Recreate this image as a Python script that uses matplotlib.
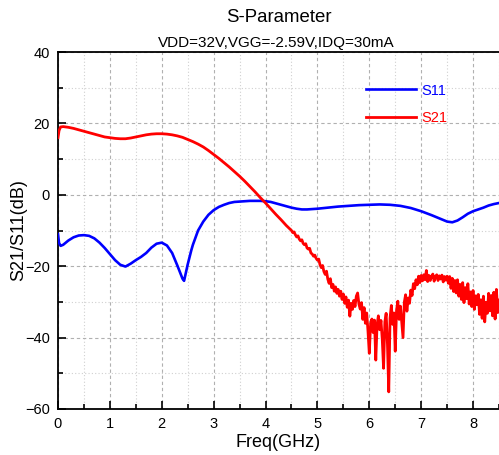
import numpy as np
import matplotlib
matplotlib.use("Agg")
import matplotlib.pyplot as plt
from matplotlib.ticker import MultipleLocator

plt.rcParams['font.family'] = ['Liberation Sans', 'DejaVu Sans']

# ---------------- data ----------------
s11_freq = [0.00, 0.02, 0.05, 0.1, 0.2, 0.3, 0.4, 0.5, 0.6, 0.7, 0.8, 0.9, 1.0, 1.1, 1.2, 1.3,
            1.4, 1.5, 1.6, 1.7, 1.8, 1.9, 2.0, 2.1, 2.2, 2.3, 2.4, 2.43, 2.5, 2.57, 2.6, 2.7, 2.8,
            2.9, 3.0, 3.1, 3.2, 3.3, 3.4, 3.5, 3.6, 3.7, 3.8, 3.9, 4.0, 4.1, 4.2, 4.3, 4.4,
            4.5, 4.6, 4.7, 4.8, 4.9, 5.0, 5.2, 5.4, 5.6, 5.8, 6.0, 6.2, 6.4, 6.6, 6.8, 7.0,
            7.2, 7.4, 7.5, 7.6, 7.7, 7.8, 7.9, 8.0, 8.1, 8.2, 8.3, 8.4, 8.5]
s11_db = [-11.0, -13.5, -14.3, -14.0, -12.8, -11.9, -11.4, -11.3, -11.5, -12.2, -13.4, -14.9,
          -16.6, -18.3, -19.6, -20.1, -19.3, -18.3, -17.4, -16.3, -14.8, -13.7, -13.4, -14.2,
          -16.3, -19.8, -23.5, -24.1, -19.5, -15.5, -14.0, -10.0, -7.5, -5.6, -4.3, -3.4, -2.8,
          -2.3, -2.0, -1.9, -1.8, -1.7, -1.7, -1.7, -1.8, -2.0, -2.4, -2.8, -3.2, -3.6, -3.9,
          -4.1, -4.1, -4.0, -3.9, -3.6, -3.3, -3.1, -2.9, -2.8, -2.7, -2.8, -3.1, -3.7, -4.6,
          -5.7, -6.9, -7.5, -7.7, -7.2, -6.3, -5.3, -4.6, -4.1, -3.6, -3.0, -2.6, -2.3]

s21_freq_smooth = [0.00, 0.02, 0.05, 0.1, 0.2, 0.3, 0.4, 0.5, 0.6, 0.7, 0.8, 0.9, 1.0, 1.1,
                   1.2, 1.3, 1.4, 1.5, 1.6, 1.7, 1.8, 1.9, 2.0, 2.1, 2.2, 2.3, 2.4, 2.5, 2.6,
                   2.7, 2.8, 2.9, 3.0, 3.1, 3.2, 3.3, 3.4, 3.5, 3.6, 3.7, 3.8, 3.85, 3.9, 4.0,
                   4.1, 4.2, 4.3, 4.4]
s21_db_smooth = [16.0, 18.0, 19.0, 19.1, 18.9, 18.6, 18.2, 17.8, 17.4, 17.0, 16.6, 16.2, 16.0,
                 15.8, 15.7, 15.7, 15.9, 16.2, 16.5, 16.8, 17.0, 17.1, 17.1, 17.0, 16.8, 16.5,
                 16.1, 15.5, 14.9, 14.2, 13.4, 12.4, 11.3, 10.2, 9.0, 7.8, 6.5, 5.2, 3.8, 2.3,
                 0.8, 0.0, -0.8, -2.3, -3.9, -5.5, -7.0, -8.6]

s21_freq_noisy_start = 4.5
s21_freq_noisy_step = 0.025
s21_db_noisy = [
    -10.0, -10.6, -10.4, -11.2, -11.8, -11.5, -12.4, -12.9, -12.6, -13.6,
    -14.0, -13.7, -14.9, -15.2, -15.0, -16.3, -16.6, -17.2, -16.9, -17.8,
    -18.3, -18.0, -19.6, -20.4, -19.8, -21.5, -22.3, -21.4, -23.6, -24.8,
    -23.5, -26.0, -25.1, -27.0, -25.8, -27.6, -26.5, -28.4, -27.0, -29.3,
    -27.8, -30.4, -28.6, -31.5, -29.5, -34.0, -30.4, -32.1, -29.6, -31.3,
    -28.4, -27.5, -30.6, -32.0, -30.2, -34.9, -31.6, -36.0, -33.1, -38.2,
    -44.4, -36.2, -34.8, -38.6, -35.1, -46.3, -36.4, -33.9, -37.8, -35.2,
    -40.5, -48.6, -35.6, -33.2, -41.8, -55.2, -34.5, -31.0, -36.3, -33.1,
    -43.8, -32.4, -29.8, -34.9, -31.2, -35.5, -40.0, -30.1, -28.0, -32.6,
    -28.9, -30.4, -26.7, -28.2, -24.9, -26.3, -23.8, -25.2, -22.8, -24.6,
    -22.6, -24.1, -22.4, -23.8, -21.2, -24.3, -22.6, -24.0, -22.8, -22.2,
    -24.2, -22.9, -22.4, -24.0, -22.7, -23.6, -22.5, -24.4, -22.9, -23.9,
    -22.8, -24.8, -22.9, -26.2, -23.4, -27.1, -24.0, -27.5, -23.8, -28.4,
    -25.1, -29.3, -24.6, -30.2, -26.0, -29.1, -24.9, -30.6, -27.2, -31.3,
    -26.8, -32.1, -28.3, -30.8, -27.9, -33.5, -29.4, -34.6, -28.4, -35.6,
    -30.1, -33.2, -27.6, -32.5, -28.2, -33.9, -27.3, -34.8, -26.5, -33.0,
    -29.5]

x_ticks = [0, 1, 2, 3, 4, 5, 6, 7, 8]
y_ticks = [-60, -40, -20, 0, 20, 40]

s21_freq_noisy = [s21_freq_noisy_start + s21_freq_noisy_step * i for i in range(len(s21_db_noisy))]
s21_freq = s21_freq_smooth + s21_freq_noisy
s21_db = s21_db_smooth + s21_db_noisy

# ---------------- figure ----------------
fig = plt.figure(figsize=(4.99, 4.55), dpi=100)
ax = fig.add_axes([58/499, 1-409/455, 1-58/499, (409-52)/455])

ax.plot(s11_freq, s11_db, color='#0000FF', lw=1.9, label='S11', zorder=3)
ax.plot(s21_freq, s21_db, color='#FF0000', lw=2.0, label='S21', zorder=3)

ax.set_xlim(0, 8.5)
ax.set_ylim(-60, 40)
ax.set_xticks(x_ticks)
ax.set_yticks(y_ticks)
ax.xaxis.set_minor_locator(MultipleLocator(0.5))
ax.yaxis.set_minor_locator(MultipleLocator(10))

ax.grid(which='major', color='#b0b0b0', linestyle=(0, (3, 2.5)), linewidth=0.8)
ax.grid(which='minor', color='#d0d0d0', linestyle=(0, (1, 2)), linewidth=0.8)
ax.set_axisbelow(True)

ax.tick_params(which='both', direction='in', top=False, right=False, width=1.2,
               labelsize=10.5, pad=6, colors='black')
ax.tick_params(which='major', length=6)
ax.tick_params(which='minor', length=3.5)

for side in ['left', 'bottom', 'top']:
    ax.spines[side].set_linewidth(1.3)
ax.spines['right'].set_visible(False)

ax.set_xlabel('Freq(GHz)', fontsize=13, labelpad=2)
ax.set_ylabel('S21/S11(dB)', fontsize=13, labelpad=-1.5)

fig.text(279/499, 1-18/455, 'S-Parameter', ha='center', va='center', fontsize=13.4)
fig.text(276/499, 1-43/455, 'VDD=32V,VGG=-2.59V,IDQ=30mA', ha='center', va='center', fontsize=11)

leg = ax.legend(loc='upper left', bbox_to_anchor=(0.686, 0.928), frameon=False,
                fontsize=10.5, handlelength=3.4, handletextpad=0.4, labelspacing=0.9,
                labelcolor='linecolor', borderaxespad=0)

fig.savefig('out.png', dpi=100)
